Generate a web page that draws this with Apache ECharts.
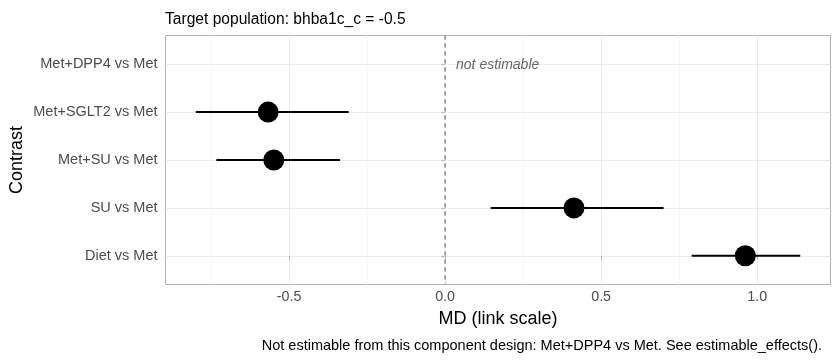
<!DOCTYPE html>
<html>
<head>
<meta charset="utf-8">
<script src="https://cdn.jsdelivr.net/npm/echarts@6/dist/echarts.min.js"></script>
<style>
html,body{margin:0;padding:0;background:#fff;}
#chart{width:840px;height:360px;}
</style>
</head>
<body>
<div id="chart"></div>
<script>
// Categories bottom-to-top (ggplot order)
const categories = ["Diet vs Met", "SU vs Met", "Met+SU vs Met", "Met+SGLT2 vs Met", "Met+DPP4 vs Met"];
const estimates = [0.962, 0.413, -0.549, -0.567, null];
const lower = [0.790, 0.146, -0.733, -0.799, null];
const upper = [1.138, 0.700, -0.337, -0.309, null];
const xTicks = [-0.5, 0, 0.5, 1.0];
const xMinorTicks = [-0.75, -0.25, 0.25, 0.75];
const refLine = [0];
const notEstimableLabel = "not estimable";
const notEstimableIndex = 4;

const FONT = "Liberation Sans";
const chart = echarts.init(document.getElementById('chart'), null, {renderer: 'canvas'});

const pointData = [];
const barData = [];
estimates.forEach((v, i) => {
  if (v !== null) {
    pointData.push([v, i]);
    barData.push([lower[i], upper[i], i]);
  }
});

function vlineRenderer(style) {
  return (params, api) => {
    const p = api.coord([api.value(0), 0]);
    const cs = params.coordSys;
    return {
      type: 'line',
      silent: true,
      shape: {x1: p[0], y1: cs.y, x2: p[0], y2: cs.y + cs.height},
      style: style
    };
  };
}

const option = {
  animation: false,
  backgroundColor: '#ffffff',
  title: [
    {
      text: 'Target population: bhba1c_c = -0.5',
      left: 160, top: 7,
      textStyle: {fontFamily: FONT, fontSize: 15.6, fontWeight: 'normal', color: '#000'}
    },
    {
      text: 'Not estimable from this component design: Met+DPP4 vs Met. See estimable_effects().',
      right: 13, top: 333,
      textStyle: {fontFamily: FONT, fontSize: 14.5, fontWeight: 'normal', color: '#000'}
    }
  ],
  graphic: [
    {
      type: 'text',
      x: 17, y: 160,
      rotation: Math.PI / 2,
      style: {
        text: 'Contrast',
        fontFamily: FONT, fontSize: 18, fill: '#000',
        align: 'center', verticalAlign: 'middle'
      }
    }
  ],
  grid: {
    left: 165.5, right: 9.5, top: 35.5, bottom: 75.5,
    containLabel: false,
    outerBoundsMode: 'none',
    show: true, borderColor: '#b3b3b3', borderWidth: 1, backgroundColor: 'transparent'
  },
  xAxis: {
    type: 'value',
    min: -0.896, max: 1.235,
    name: 'MD (link scale)',
    nameLocation: 'middle',
    nameGap: 26,
    nameTextStyle: {fontFamily: FONT, fontSize: 18, color: '#000'},
    axisLine: {show: false},
    axisTick: {show: true, customValues: xTicks, length: 4, lineStyle: {color: '#b3b3b3'}},
    axisLabel: {
      customValues: xTicks, margin: 6,
      fontFamily: FONT, fontSize: 14.3, color: '#4d4d4d',
      formatter: v => v.toFixed(1)
    },
    splitLine: {show: true, lineStyle: {color: '#ebebeb', width: 1}}
  },
  yAxis: {
    type: 'value',
    min: -0.6, max: 4.6,
    axisLine: {show: false},
    axisTick: {show: true, customValues: [0,1,2,3,4], length: 4, lineStyle: {color: '#b3b3b3'}},
    axisLabel: {
      customValues: [0,1,2,3,4], margin: 8,
      fontFamily: FONT, fontSize: 14.5, color: '#4d4d4d',
      formatter: v => categories[Math.round(v)]
    },
    splitLine: {show: true, lineStyle: {color: '#ebebeb', width: 1}}
  },
  series: [
    {
      type: 'custom',
      z: 1,
      silent: true,
      data: xMinorTicks.map(v => [v]),
      encode: {x: 0},
      renderItem: vlineRenderer({stroke: '#f3f3f3', lineWidth: 1})
    },
    {
      type: 'custom',
      z: 3,
      silent: true,
      data: refLine.map(v => [v]),
      encode: {x: 0},
      renderItem: vlineRenderer({stroke: '#8a8a8a', lineWidth: 1.6, lineDash: [4, 4]})
    },
    {
      type: 'custom',
      z: 4,
      data: barData,
      renderItem: (params, api) => {
        const p1 = api.coord([api.value(0), api.value(2)]);
        const p2 = api.coord([api.value(1), api.value(2)]);
        return {
          type: 'line',
          shape: {x1: p1[0], y1: p1[1], x2: p2[0], y2: p2[1]},
          style: {stroke: '#000', lineWidth: 2}
        };
      },
      encode: {x: [0, 1], y: 2}
    },
    {
      type: 'scatter',
      z: 5,
      symbol: 'circle',
      symbolSize: 21,
      itemStyle: {color: '#000', opacity: 1},
      data: pointData
    },
    {
      type: 'custom',
      z: 5,
      data: [[0.035, notEstimableIndex]],
      renderItem: (params, api) => {
        const p = api.coord([api.value(0), api.value(1)]);
        return {
          type: 'text',
          x: p[0], y: p[1] + 1,
          style: {
            text: notEstimableLabel,
            fontFamily: FONT, fontSize: 14, fontStyle: 'italic',
            fill: '#666666', align: 'left', verticalAlign: 'middle'
          }
        };
      },
      encode: {x: 0, y: 1}
    }
  ]
};
chart.setOption(option);
</script>
</body>
</html>
